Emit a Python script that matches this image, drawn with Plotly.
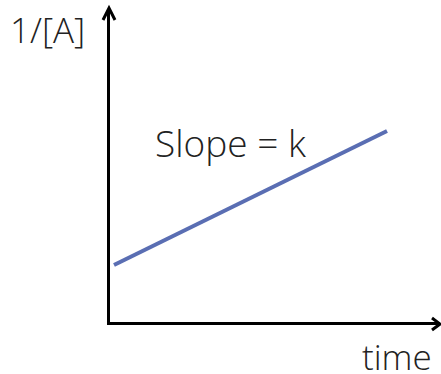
import plotly.graph_objects as go

# Data (arbitrary units, schematic second-order plot)
time = [0, 10]
inv_A = [1, 5]

y_label = "1/[A]"
x_label = "time"
slope_label = "Slope = k"

W, H = 441, 374
L, R, T, B = 110, 1, 10, 52
pw, ph = W - L - R, H - T - B

def px2paper(x, y):
    return (x - L) / pw, (H - B - y) / ph

fig = go.Figure()
fig.add_trace(go.Scatter(x=time, y=inv_A, mode="lines",
                         line=dict(color="#5a6eb3", width=4),
                         hoverinfo="skip", showlegend=False))

for txt, (cx, cy), size, hgt in [(y_label, (47, 29), 35, None), (slope_label, (230, 142), 37, None),
                                 (x_label, (397, 356), 35, 32)]:
    xp, yp = px2paper(cx, cy)
    fig.add_annotation(text=txt, x=xp, y=yp, xref="paper", yref="paper",
                       showarrow=False, xanchor="center", yanchor="middle", height=hgt,
                       font=dict(family="Open Sans", size=size, color="#222222", weight=300))

def chevron(pts):
    p = [px2paper(*q) for q in pts]
    return "M {} {} L {} {} L {} {}".format(p[0][0], p[0][1], p[1][0], p[1][1], p[2][0], p[2][1])

for pts in [[(103, 20), (109, 8), (115, 20)], [(432, 318), (440, 324), (432, 330)]]:
    fig.add_shape(type="path", path=chevron(pts), xref="paper", yref="paper",
                  line=dict(color="black", width=3))

fig.update_xaxes(range=[-0.1465, 11.941], showline=True, linewidth=3, linecolor="black",
                 showgrid=False, zeroline=False, showticklabels=False, ticks="")
fig.update_yaxes(range=[-0.701, 8.612], showline=True, linewidth=3, linecolor="black",
                 showgrid=False, zeroline=False, showticklabels=False, ticks="")

fig.update_layout(width=W, height=H, margin=dict(l=L, r=R, t=T, b=B),
                  paper_bgcolor="white", plot_bgcolor="rgba(0,0,0,0)")

fig.write_html("out.html", config={"displayModeBar": False},
               post_script="document.body.style.margin='0';document.body.style.overflow='hidden';")
